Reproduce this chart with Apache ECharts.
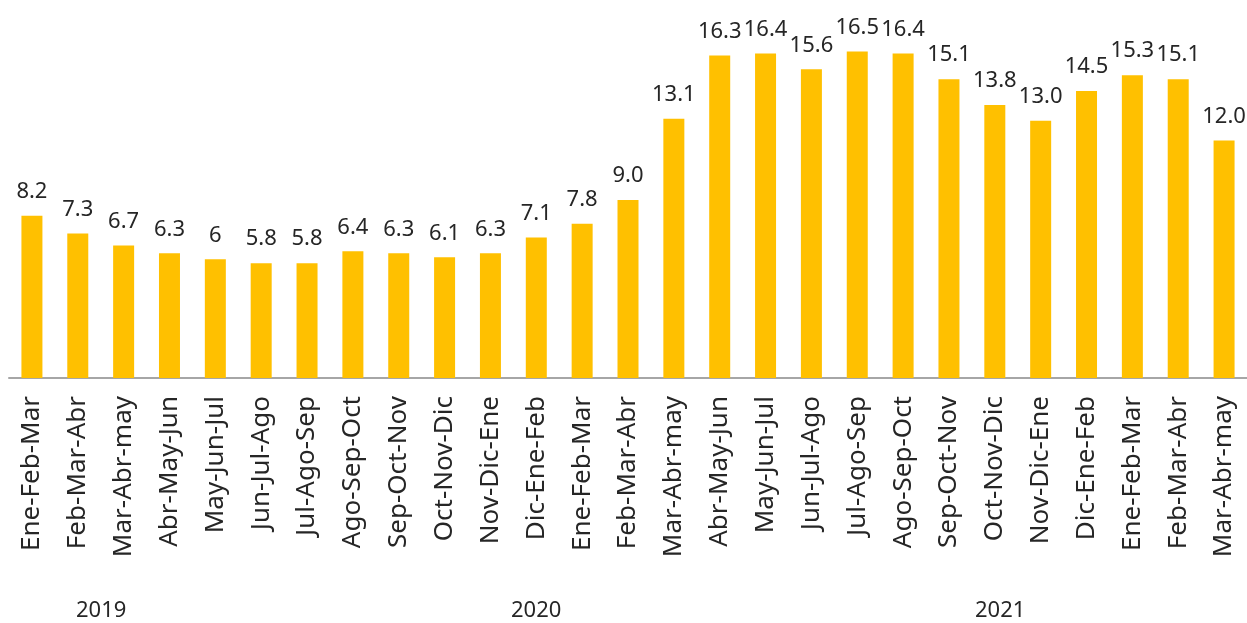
<!DOCTYPE html>
<html>
<head>
<meta charset="utf-8">
<script src="https://cdn.jsdelivr.net/npm/echarts@6/dist/echarts.min.js"></script>
<style>
html,body{margin:0;padding:0;background:#fff;}
#main{width:1247px;height:623px;}
</style>
</head>
<body>
<div id="main"></div>
<script>
// periodos trimestrales moviles
var categories = ['Ene-Feb-Mar','Feb-Mar-Abr','Mar-Abr-may','Abr-May-Jun','May-Jun-Jul','Jun-Jul-Ago','Jul-Ago-Sep',
    'Ago-Sep-Oct','Sep-Oct-Nov','Oct-Nov-Dic','Nov-Dic-Ene','Dic-Ene-Feb','Ene-Feb-Mar','Feb-Mar-Abr',
    'Mar-Abr-may','Abr-May-Jun','May-Jun-Jul','Jun-Jul-Ago','Jul-Ago-Sep','Ago-Sep-Oct','Sep-Oct-Nov',
    'Oct-Nov-Dic','Nov-Dic-Ene','Dic-Ene-Feb','Ene-Feb-Mar','Feb-Mar-Abr','Mar-Abr-may'];
var values = [8.2,7.3,6.7,6.3,6,5.8,5.8,6.4,6.3,6.1,6.3,7.1,7.8,9.0,13.1,16.3,16.4,15.6,16.5,16.4,15.1,13.8,13.0,14.5,15.3,15.1,12.0];
var valueLabels = ['8.2','7.3','6.7','6.3','6','5.8','5.8','6.4','6.3','6.1','6.3','7.1','7.8','9.0','13.1','16.3','16.4','15.6','16.5','16.4','15.1','13.8','13.0','14.5','15.3','15.1','12.0'];
var years = ['2019','2020','2021'];

var myChart = echarts.init(document.getElementById('main'));
var textColor = '#262626';
var font = 'Noto Sans';

var option = {
    animation: false,
    grid: {
        left: 9,
        right: 0,
        top: 2,
        bottom: 245,
        containLabel: false,
        outerBoundsMode: 'none'
    },
    xAxis: {
        type: 'category',
        data: categories,
        axisTick: {show: false},
        axisLine: {lineStyle: {color: '#A6A6A6', width: 2}},
        axisLabel: {
            rotate: 90,
            interval: 0,
            margin: 18,
            color: textColor,
            fontFamily: font,
            fontSize: 26
        }
    },
    yAxis: {
        type: 'value',
        min: 0,
        max: 19,
        show: false,
        splitLine: {show: false}
    },
    graphic: [
        {type: 'text', left: 76, top: 600, style: {text: years[0], fill: textColor, font: '22px "Noto Sans"'}},
        {type: 'text', left: 511, top: 600, style: {text: years[1], fill: textColor, font: '22px "Noto Sans"'}},
        {type: 'text', left: 975, top: 600, style: {text: years[2], fill: textColor, font: '22px "Noto Sans"'}}
    ],
    series: [
        {
            type: 'bar',
            data: values,
            barWidth: 21,
            itemStyle: {color: '#FFC000'},
            label: {
                show: true,
                position: 'top',
                distance: 13,
                color: textColor,
                fontFamily: font,
                fontSize: 22,
                formatter: function(p){ return valueLabels[p.dataIndex]; }
            }
        }
    ]
};

myChart.setOption(option);
</script>
</body>
</html>
